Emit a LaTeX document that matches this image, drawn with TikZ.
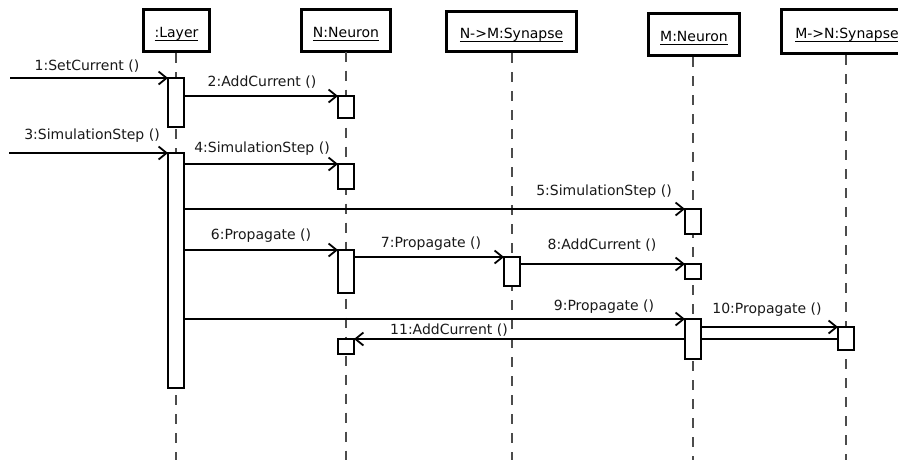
\documentclass[tikz,border=0pt]{standalone}
\usepackage{fontspec}
\setmainfont{DejaVu Sans}
\usetikzlibrary{arrows.meta}

% underlined object name with a fixed underline depth
\newcommand\objname[1]{\setbox0\hbox{#1}\rlap{\rule[-3.5pt]{\wd0}{0.9pt}}\box0}

\begin{document}
\begin{tikzpicture}[x=1pt,y=-1pt,
  font=\fontsize{14}{16}\selectfont,
  head/.style={draw, line width=2.6pt, fill=white, inner sep=0pt, outer sep=0pt,
               text height=13pt, text depth=0pt},
  life/.style={line width=1.1pt, black!70, dash pattern=on 10pt off 9pt},
  act/.style={draw, line width=1.8pt, fill=white, minimum width=16pt,
              inner sep=0pt, outer sep=0pt, anchor=north},
  msg/.style={line width=1.8pt, -{Straight Barb[length=8pt,width=13pt]}},
  lbl/.style={anchor=base, inner sep=0pt, text=black!90}]

\useasboundingbox (0,0) rectangle (898,464);
\clip (0,0) rectangle (898,464);

% object heads
\node[head, minimum width=66.4pt, minimum height=42.4pt] (hL) at (176.5,30.5) {\objname{:Layer}};
\node[head, minimum width=89.4pt, minimum height=42.4pt] (hN) at (346,30.5) {\objname{N:Neuron}};
\node[head, minimum width=130.4pt, minimum height=40.4pt] (hS) at (511.5,31.5) {\objname{N->M:Synapse}};
\node[head, minimum width=91.4pt, minimum height=42.4pt] (hM) at (694,34.5) {\objname{M:Neuron}};
\node[head, minimum width=131.4pt, minimum height=44.4pt] (hR) at (847,31.5) {\objname{M->N:Synapse}};

% lifelines
\coordinate (bottom) at (0,460);
\draw[life] (176,53) -- (176,460);
\draw[life] (hN.south) -- (hN.south |- bottom);
\draw[life] (512,53) -- (512,460);
\draw[life] (693,57) -- (693,460);
\draw[life] (846,55) -- (846,460);

% activation bars (positions only; drawn after the messages)
\path
  node[act, minimum height=49pt]  (la1) at (176,78)  {}
  node[act, minimum height=22pt]  (na1) at (346,96)  {}
  node[act, minimum height=235pt] (la2) at (176,153) {}
  node[act, minimum height=25pt]  (na2) at (346,164) {}
  node[act, minimum height=25pt]  (ma1) at (693,209) {}
  node[act, minimum height=43pt]  (na3) at (346,250) {}
  node[act, minimum height=29pt]  (sa1) at (512,257) {}
  node[act, minimum height=15pt]  (ma2) at (693,264) {}
  node[act, minimum height=40pt]  (ma3) at (693,319) {}
  node[act, minimum height=23pt]  (ra1) at (846,327) {}
  node[act, minimum height=15pt]  (na4) at (346,339) {};

% messages
\coordinate (in1) at (10,78);
\coordinate (in3) at (9,153);
\draw[msg] (in1) -- (la1.north west);
\draw[msg] (la1.east |- na1.north) -- (na1.north west);
\draw[msg] (in3) -- (la2.north west);
\draw[msg] (la2.east |- na2.north) -- (na2.north west);
\draw[msg] (la2.east |- ma1.north) -- (ma1.north west);
\draw[msg] (la2.east |- na3.north) -- (na3.north west);
\draw[msg] (na3.east |- sa1.north) -- (sa1.north west);
\draw[msg] (sa1.east |- ma2.north) -- (ma2.north west);
\draw[msg] (la2.east |- ma3.north) -- (ma3.north west);
\draw[msg] (ma3.east |- ra1.north) -- (ra1.north west);
\draw[msg] (ra1.west |- na4.north) -- (na4.north east);

% activation bars drawn on top of the message lines
\foreach \a in {la1,na1,la2,na2,ma1,na3,sa1,ma2,ma3,ra1,na4}
  \draw[line width=1.8pt, fill=white] (\a.north west) rectangle (\a.south east);

% message labels
\node[lbl] (l1)  at (87,70)   {1:SetCurrent ()};
\node[lbl] (l2)  at (262,86)  {2:AddCurrent ()};
\node[lbl] (l3)  at (92,139)  {3:SimulationStep ()};
\node[lbl] (l4)  at (262,152) {4:SimulationStep ()};
\node[lbl] (l5)  at (604,195) {5:SimulationStep ()};
\node[lbl] (l6)  at (261,239) {6:Propagate ()};
\node[lbl] (l7)  at (431,247) {7:Propagate ()};
\node[lbl] (l8)  at (602,249) {8:AddCurrent ()};
\node[lbl] (l9)  at (604,310) {9:Propagate ()};
\node[lbl] (l10) at (767,313) {10:Propagate ()};
\node[lbl] (l11) at (449,334) {11:AddCurrent ()};
\end{tikzpicture}
\end{document}
